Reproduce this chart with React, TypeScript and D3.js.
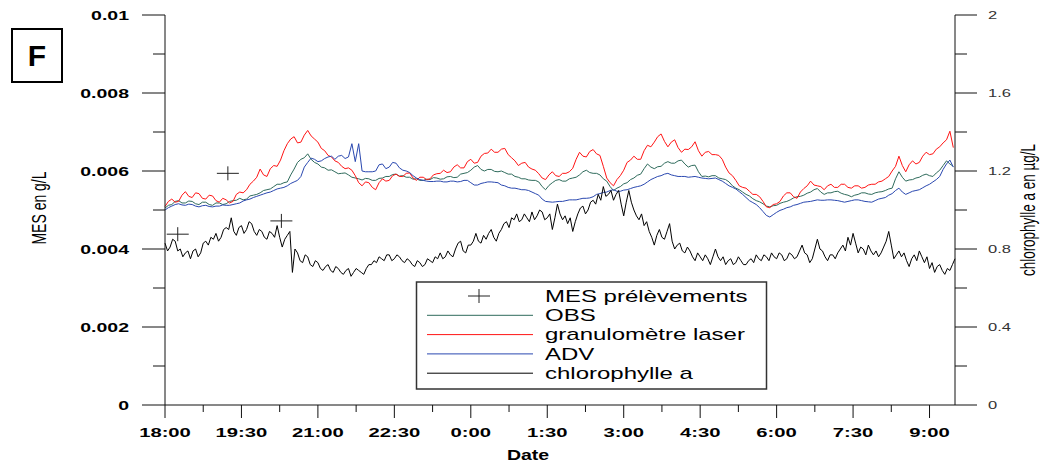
import React from "react";
import * as d3 from "d3";

// ---------- data ----------
// sampling interval (minutes after 18:00) of the sensor series
const COLOR_STEP_MIN = 4;
const CHL_STEP_MIN = 3;

const xTickMinutes = [0, 90, 180, 270, 360, 450, 540, 630, 720, 810, 900];
const xTickLabels = ["18:00", "19:30", "21:00", "22:30", "0:00", "1:30", "3:00", "4:30", "6:00", "7:30", "9:00"];
const xMinorMinutes = [45, 135, 225, 315, 405, 495, 585, 675, 765, 855];

const leftTicks = [0, 0.002, 0.004, 0.006, 0.008, 0.01];
const leftTickLabels = ["0", "0.002", "0.004", "0.006", "0.008", "0.01"];
const leftMinor = [0.001, 0.003, 0.005, 0.007, 0.009];
const rightTicks = [0, 0.4, 0.8, 1.2, 1.6, 2];
const rightTickLabels = ["0", "0.4", "0.8", "1.2", "1.6", "2"];
const rightMinor = [0.2, 0.6, 1.0, 1.4, 1.8];

const mesMinutes = [15, 74, 137];
const mesValues = [0.00438, 0.00594, 0.00472];

// OBS (g/L)
const obs = [
  0.00505, 0.00512, 0.00514, 0.00522, 0.00524, 0.00518, 0.00518, 0.00523, 0.00522, 0.00516,
  0.00514, 0.0052, 0.0052, 0.00514, 0.00512, 0.00518, 0.00518, 0.00514, 0.00516, 0.00522,
  0.00524, 0.00525, 0.0053, 0.00526, 0.00528, 0.00536, 0.00538, 0.0054, 0.00544, 0.0055,
  0.00552, 0.00554, 0.0056, 0.00566, 0.00566, 0.0057, 0.00572, 0.0059, 0.00605, 0.00622,
  0.0063, 0.00634, 0.00644, 0.0063, 0.00622, 0.00618, 0.0061, 0.00608, 0.00602, 0.00603,
  0.00598, 0.00593, 0.00594, 0.00595, 0.0059, 0.00584, 0.00582, 0.0058, 0.00577, 0.00581,
  0.0058, 0.00576, 0.00576, 0.00581, 0.00582, 0.00586, 0.00586, 0.00591, 0.00592, 0.00587,
  0.00588, 0.00584, 0.00584, 0.00579, 0.0058, 0.00576, 0.00576, 0.00579, 0.00578, 0.00583,
  0.00582, 0.00579, 0.0058, 0.00585, 0.00586, 0.00583, 0.00584, 0.00592, 0.00594, 0.00596,
  0.00602, 0.0061, 0.00614, 0.00604, 0.006, 0.00604, 0.00604, 0.00599, 0.00598, 0.006,
  0.00596, 0.00592, 0.00592, 0.00586, 0.00584, 0.0058, 0.0058, 0.00577, 0.00576, 0.00576,
  0.00572, 0.0056, 0.00552, 0.00563, 0.0057, 0.00576, 0.00578, 0.00574, 0.00574, 0.0058,
  0.00582, 0.00584, 0.0059, 0.00598, 0.00602, 0.00596, 0.00594, 0.00594, 0.0059, 0.0058,
  0.00574, 0.0056, 0.0055, 0.00556, 0.0056, 0.00567, 0.0057, 0.00578, 0.00582, 0.00589,
  0.00592, 0.00606, 0.00618, 0.0061, 0.00606, 0.00611, 0.00612, 0.0062, 0.00624, 0.0062,
  0.0062, 0.00626, 0.00628, 0.00618, 0.0061, 0.00614, 0.00615, 0.00598, 0.00586, 0.00587,
  0.00585, 0.00588, 0.00588, 0.00582, 0.0058, 0.00578, 0.00572, 0.00562, 0.00556, 0.00552,
  0.00546, 0.0054, 0.00536, 0.00529, 0.00524, 0.00521, 0.00516, 0.0051, 0.00508, 0.00511,
  0.00512, 0.00517, 0.0052, 0.00522, 0.00526, 0.00531, 0.00534, 0.00535, 0.00538, 0.00543,
  0.00546, 0.00552, 0.00555, 0.00546, 0.0054, 0.00544, 0.00544, 0.00547, 0.00548, 0.00543,
  0.0054, 0.00538, 0.00534, 0.00538, 0.0054, 0.00544, 0.00544, 0.00541, 0.0054, 0.00544,
  0.00546, 0.00547, 0.0055, 0.00554, 0.00556, 0.0058, 0.00598, 0.00584, 0.00574, 0.00577,
  0.00578, 0.00582, 0.00584, 0.00589, 0.00592, 0.00588, 0.00586, 0.00595, 0.00602, 0.00614,
  0.00626, 0.00618, 0.00612,
];

// granulomètre laser (g/L)
const laser = [
  0.00509, 0.00522, 0.00528, 0.0052, 0.00522, 0.00538, 0.00547, 0.00535, 0.00532, 0.00544,
  0.00542, 0.0053, 0.00528, 0.00538, 0.00536, 0.00524, 0.0052, 0.0053, 0.00526, 0.00518,
  0.00522, 0.0054, 0.00546, 0.00544, 0.00552, 0.00566, 0.00574, 0.00584, 0.00605, 0.0059,
  0.00586, 0.00606, 0.00614, 0.00612, 0.00628, 0.00652, 0.0067, 0.00682, 0.00688, 0.00672,
  0.00674, 0.00692, 0.00704, 0.0069, 0.00682, 0.00674, 0.00658, 0.00652, 0.0064, 0.00636,
  0.00626, 0.00622, 0.00612, 0.00606, 0.00608, 0.00602, 0.00588, 0.0057, 0.00562, 0.00572,
  0.0057, 0.00558, 0.00552, 0.0057, 0.0058, 0.00574, 0.00576, 0.00588, 0.00592, 0.00586,
  0.00586, 0.00594, 0.00595, 0.00582, 0.00576, 0.00584, 0.00584, 0.00578, 0.0058, 0.0059,
  0.00593, 0.00594, 0.00602, 0.00596, 0.00598, 0.0061, 0.00616, 0.00608, 0.00608, 0.00624,
  0.0063, 0.0062, 0.00622, 0.00638, 0.00645, 0.00646, 0.00656, 0.00648, 0.00648, 0.00656,
  0.00658, 0.00642, 0.00634, 0.00626, 0.00614, 0.0062, 0.00622, 0.0061, 0.00605, 0.00602,
  0.00593, 0.00582, 0.00578, 0.0059, 0.00598, 0.00588, 0.00586, 0.00594, 0.00594, 0.00598,
  0.00607, 0.0063, 0.00648, 0.00638, 0.00636, 0.0065, 0.00655, 0.00644, 0.0064, 0.00612,
  0.00582, 0.0057, 0.00562, 0.00578, 0.00588, 0.00602, 0.00622, 0.00628, 0.00638, 0.0063,
  0.0063, 0.00652, 0.00666, 0.00662, 0.00674, 0.00688, 0.00695, 0.00676, 0.00662, 0.00674,
  0.0068, 0.0066, 0.00648, 0.00656, 0.00655, 0.00662, 0.00675, 0.00652, 0.00638, 0.00648,
  0.0065, 0.00642, 0.00642, 0.0064, 0.0063, 0.0061, 0.00595, 0.00588, 0.00576, 0.00562,
  0.00558, 0.00556, 0.00548, 0.0054, 0.0054, 0.00534, 0.00522, 0.00508, 0.00506, 0.00514,
  0.00516, 0.00522, 0.00536, 0.00544, 0.00544, 0.00534, 0.0053, 0.00546, 0.00555, 0.00562,
  0.00574, 0.00564, 0.00562, 0.0056, 0.00552, 0.00562, 0.00566, 0.00558, 0.00558, 0.00566,
  0.00566, 0.00558, 0.00556, 0.00562, 0.00562, 0.00556, 0.00558, 0.00564, 0.00566, 0.00566,
  0.00572, 0.00574, 0.0058, 0.00586, 0.006, 0.00612, 0.00638, 0.00614, 0.00598, 0.00616,
  0.00626, 0.00618, 0.00622, 0.00638, 0.00648, 0.00642, 0.00644, 0.00656, 0.00662, 0.00672,
  0.0068, 0.00702, 0.0066,
];

// ADV (g/L)
const adv = [
  0.005, 0.00506, 0.0051, 0.00514, 0.00516, 0.00513, 0.00512, 0.00515, 0.00514, 0.0051,
  0.00508, 0.00511, 0.00512, 0.00509, 0.00508, 0.0051, 0.0051, 0.00513, 0.00512, 0.00512,
  0.00514, 0.00516, 0.00518, 0.00523, 0.00526, 0.00528, 0.00532, 0.00535, 0.00538, 0.00541,
  0.00544, 0.00546, 0.0055, 0.00554, 0.00556, 0.00558, 0.00562, 0.00568, 0.00572, 0.00576,
  0.00586, 0.0061, 0.00622, 0.00633, 0.0063, 0.00624, 0.00626, 0.00632, 0.00636, 0.00638,
  0.0063, 0.00638, 0.0064, 0.00632, 0.00636, 0.0067, 0.00624, 0.0067, 0.006, 0.00598,
  0.00598, 0.00598, 0.006, 0.00616, 0.00618, 0.00606, 0.0061, 0.00622, 0.0062, 0.00608,
  0.00602, 0.006, 0.00596, 0.00588, 0.00582, 0.00578, 0.00576, 0.00574, 0.00573, 0.00573,
  0.00574, 0.00574, 0.00572, 0.00572, 0.00574, 0.00574, 0.00572, 0.00573, 0.00576, 0.00576,
  0.0057, 0.00564, 0.00564, 0.00568, 0.0057, 0.00572, 0.00572, 0.00571, 0.0057, 0.00564,
  0.00562, 0.00558, 0.00556, 0.00556, 0.00554, 0.00552, 0.00552, 0.0055, 0.00546, 0.00542,
  0.00538, 0.00528, 0.00522, 0.00521, 0.0052, 0.00521, 0.00522, 0.00522, 0.00524, 0.00526,
  0.00526, 0.00526, 0.00528, 0.0053, 0.0053, 0.00531, 0.00534, 0.0054, 0.00542, 0.00545,
  0.00546, 0.0055, 0.00552, 0.00548, 0.00548, 0.00551, 0.00552, 0.00555, 0.00558, 0.0056,
  0.00562, 0.00566, 0.00572, 0.00578, 0.00582, 0.00586, 0.00588, 0.00592, 0.00594, 0.0059,
  0.00588, 0.00586, 0.00586, 0.00586, 0.00584, 0.00585, 0.00586, 0.00584, 0.00582, 0.00581,
  0.0058, 0.00581, 0.00582, 0.00578, 0.00574, 0.00568, 0.00562, 0.00558, 0.00554, 0.00547,
  0.0054, 0.00532, 0.00524, 0.00519, 0.00514, 0.00506, 0.00496, 0.00486, 0.00482, 0.00488,
  0.00494, 0.00499, 0.00502, 0.00506, 0.00508, 0.00512, 0.00514, 0.00517, 0.0052, 0.00521,
  0.00522, 0.00524, 0.00526, 0.00525, 0.00525, 0.00526, 0.00526, 0.00525, 0.00524, 0.00522,
  0.0052, 0.00522, 0.00524, 0.00526, 0.00526, 0.00524, 0.00522, 0.00521, 0.0052, 0.00524,
  0.00528, 0.0053, 0.00532, 0.00538, 0.00542, 0.0055, 0.00556, 0.00546, 0.0054, 0.00544,
  0.00548, 0.0055, 0.00552, 0.00557, 0.00562, 0.00566, 0.00572, 0.00578, 0.00586, 0.00604,
  0.00618, 0.00628, 0.0061,
];

// chlorophylle a (µg/L)
const chl = [
  0.83, 0.79, 0.81, 0.85, 0.84, 0.79, 0.8, 0.76, 0.78, 0.79,
  0.75, 0.79, 0.8, 0.76, 0.78, 0.83, 0.84, 0.82, 0.86, 0.85,
  0.88, 0.84, 0.86, 0.9, 0.91, 0.9, 0.96, 0.89, 0.87, 0.91,
  0.92, 0.88, 0.9, 0.94, 0.93, 0.89, 0.87, 0.9, 0.89, 0.86,
  0.85, 0.89, 0.88, 0.86, 0.92, 0.86, 0.81, 0.85, 0.87, 0.89,
  0.68, 0.8, 0.78, 0.74, 0.73, 0.77, 0.76, 0.72, 0.71, 0.74,
  0.73, 0.7, 0.69, 0.71, 0.72, 0.69, 0.68, 0.71, 0.7, 0.68,
  0.67, 0.69, 0.7, 0.66, 0.68, 0.7, 0.69, 0.68, 0.67, 0.7,
  0.72, 0.72, 0.74, 0.73, 0.76, 0.75, 0.74, 0.77, 0.77, 0.74,
  0.75, 0.77, 0.76, 0.74, 0.73, 0.75, 0.74, 0.72, 0.71, 0.74,
  0.73, 0.71, 0.72, 0.75, 0.74, 0.73, 0.76, 0.75, 0.78, 0.75,
  0.76, 0.79, 0.77, 0.76, 0.8, 0.83, 0.84, 0.79, 0.78, 0.82,
  0.82, 0.84, 0.88, 0.84, 0.83, 0.87, 0.85, 0.88, 0.9, 0.86,
  0.84, 0.88, 0.9, 0.93, 0.94, 0.91, 0.96, 0.95, 0.98, 0.94,
  0.95, 0.98, 0.96, 0.94, 0.99, 0.95, 0.97, 1.0, 0.99, 0.95,
  0.96, 0.98, 0.9, 0.96, 1.03, 0.98, 0.95, 0.97, 0.93, 0.96,
  0.89, 0.94, 0.98, 1.01, 1.02, 0.98, 1.0, 1.04, 1.05, 1.03,
  1.08, 1.05, 1.12, 1.07, 1.08, 1.1, 1.05, 1.08, 1.1, 1.03,
  0.97, 1.04, 1.1, 1.04, 1.0, 0.97, 0.95, 0.98, 0.92, 0.94,
  0.89, 0.86, 0.82, 0.87, 0.9, 0.86, 0.85, 0.89, 0.93, 0.84,
  0.8, 0.82, 0.83, 0.79, 0.78, 0.81, 0.79, 0.76, 0.74, 0.78,
  0.76, 0.74, 0.77, 0.75, 0.72, 0.76, 0.8, 0.76, 0.74, 0.76,
  0.72, 0.74, 0.75, 0.72, 0.73, 0.76, 0.74, 0.72, 0.72, 0.74,
  0.75, 0.73, 0.77, 0.75, 0.74, 0.77, 0.76, 0.74, 0.78, 0.76,
  0.75, 0.78, 0.77, 0.74, 0.75, 0.78, 0.77, 0.75, 0.76, 0.79,
  0.82, 0.78, 0.77, 0.73, 0.75, 0.8, 0.85, 0.8, 0.79, 0.76,
  0.74, 0.77, 0.77, 0.75, 0.78, 0.8, 0.82, 0.79, 0.86, 0.82,
  0.88, 0.83, 0.78, 0.81, 0.8, 0.77, 0.82, 0.79, 0.77, 0.79,
  0.76, 0.78, 0.81, 0.84, 0.89, 0.82, 0.75, 0.77, 0.79, 0.76,
  0.78, 0.74, 0.71, 0.75, 0.77, 0.74, 0.79, 0.76, 0.73, 0.76,
  0.7, 0.73, 0.68, 0.71, 0.72, 0.69, 0.67, 0.7, 0.69, 0.72,
  0.75,
];

const legendLabels = ["MES prélèvements", "OBS", "granulomètre laser", "ADV", "chlorophylle a"];

// ---------- styles ----------
const FONT = "'Liberation Sans', Arial, Helvetica, sans-serif";
const C_OBS = "#2f6b5c";
const C_LASER = "#ff1414";
const C_ADV = "#2a48b0";
const C_CHL = "#000000";
const SX = 1.5; // horizontal stretch of the lettering

const W = 1042;
const H = 464;
const PL = 165, PR = 955, PT = 15, PB = 405;

function T(props: {
  x: number; y: number; size: number; weight?: string | number; anchor?: string;
  fill?: string; sx?: number; rot?: boolean; children: React.ReactNode;
}) {
  const { x, y, size, weight = "normal", anchor = "start", fill = "#000", sx = SX, rot = false, children } = props;
  return (
    <text
      transform={`translate(${x},${y}) scale(${sx},1)${rot ? " rotate(-90)" : ""}`}
      fontSize={size}
      fontWeight={weight}
      textAnchor={anchor}
      fill={fill}
      fontFamily={FONT}
    >
      {children}
    </text>
  );
}

export default function App() {
  const x = d3.scaleLinear().domain([0, 930]).range([PL, PR]);
  const yL = d3.scaleLinear().domain([0, 0.01]).range([PB, PT]);
  const yR = d3.scaleLinear().domain([0, 2]).range([PB, PT]);

  const lineL = d3
    .line<number>()
    .x((_, i) => x(i * COLOR_STEP_MIN))
    .y((d) => yL(d));
  const lineR = d3
    .line<number>()
    .x((_, i) => x(i * CHL_STEP_MIN))
    .y((d) => yR(d));

  const series = [
    { data: obs, color: C_OBS },
    { data: laser, color: C_LASER },
    { data: adv, color: C_ADV },
  ];

  const legendColors = ["none", C_OBS, C_LASER, C_ADV, C_CHL];
  const LX0 = 416.5, LY0 = 282, LW = 350, LH = 107;
  const rowY0 = 296, rowStep = 19.3;

  const cross = (cx: number, cy: number, k: string | number) => (
    <g key={k} stroke="#222" strokeWidth={1}>
      <line x1={cx - 11} x2={cx + 11} y1={cy} y2={cy} />
      <line x1={cx} x2={cx} y1={cy - 7} y2={cy + 7} />
    </g>
  );

  return (
    <svg
      width={W}
      height={H}
      style={{ position: "absolute", left: 0, top: 0, background: "#fff" }}
    >
      <rect x={0} y={0} width={W} height={H} fill="#fff" />

      {/* F box */}
      <rect x={12} y={29} width={50} height={53} fill="none" stroke="#000" strokeWidth={2} />
      <T x={37} y={66} size={30} weight="bold" anchor="middle" sx={1}>F</T>

      {/* series */}
      {series.map((s, i) => (
        <path key={i} d={lineL(s.data) || ""} fill="none" stroke={s.color} strokeWidth={1} />
      ))}
      <path d={lineR(chl) || ""} fill="none" stroke={C_CHL} strokeWidth={1} />

      {/* MES samples */}
      {mesMinutes.map((m, i) => cross(x(m), yL(mesValues[i]), i))}

      {/* axes */}
      <g stroke="#111" strokeWidth={1} fill="none">
        <line x1={PL} x2={PL} y1={PT} y2={PB} />
        <line x1={PR} x2={PR} y1={PT} y2={PB} />
        <line x1={PL} x2={PR} y1={PB} y2={PB} />
        {leftTicks.map((v, i) => (
          <line key={"lt" + i} x1={PL - 23} x2={PL} y1={yL(v)} y2={yL(v)} />
        ))}
        {leftMinor.map((v, i) => (
          <line key={"lm" + i} x1={PL - 12} x2={PL} y1={yL(v)} y2={yL(v)} />
        ))}
        {rightTicks.map((v, i) => (
          <line key={"rt" + i} x1={PR} x2={PR + 22} y1={yR(v)} y2={yR(v)} />
        ))}
        {rightMinor.map((v, i) => (
          <line key={"rm" + i} x1={PR} x2={PR + 12} y1={yR(v)} y2={yR(v)} />
        ))}
        {xTickMinutes.map((m, i) => (
          <line key={"xt" + i} x1={x(m)} x2={x(m)} y1={PB} y2={PB + 13} />
        ))}
        {xMinorMinutes.map((m, i) => (
          <line key={"xm" + i} x1={x(m)} x2={x(m)} y1={PB} y2={PB + 7} />
        ))}
      </g>

      {/* tick labels */}
      {leftTicks.map((v, i) => (
        <T key={"ll" + i} x={129} y={yL(v) + 4.7} size={13} weight="bold" anchor="end">
          {leftTickLabels[i]}
        </T>
      ))}
      {rightTicks.map((v, i) => (
        <T key={"rl" + i} x={988} y={yR(v) + 4} size={11} anchor="start" fill="#333">
          {rightTickLabels[i]}
        </T>
      ))}
      {xTickMinutes.map((m, i) => (
        <T key={"xl" + i} x={x(m)} y={437} size={13.5} weight="bold" anchor="middle">
          {xTickLabels[i]}
        </T>
      ))}

      {/* axis titles */}
      <T x={528} y={460} size={15} weight="bold" anchor="middle" sx={1.3}>Date</T>
      <T x={46} y={208} size={14} anchor="middle" rot>MES en g/L</T>
      <T x={1035} y={210} size={13.5} anchor="middle" rot>chlorophylle a en µg/L</T>

      {/* legend */}
      <rect x={LX0} y={LY0} width={LW} height={LH} fill="#fff" stroke="#333" strokeWidth={1.5} />
      {legendLabels.map((lab, i) => {
        const cy = rowY0 + i * rowStep;
        return (
          <g key={"lg" + i}>
            {i === 0
              ? cross(479, cy, "lgc")
              : <line x1={427} x2={533} y1={cy} y2={cy} stroke={legendColors[i]} strokeWidth={1} />}
            <T x={545} y={cy + 5.8} size={16} anchor="start">{lab}</T>
          </g>
        );
      })}
    </svg>
  );
}
